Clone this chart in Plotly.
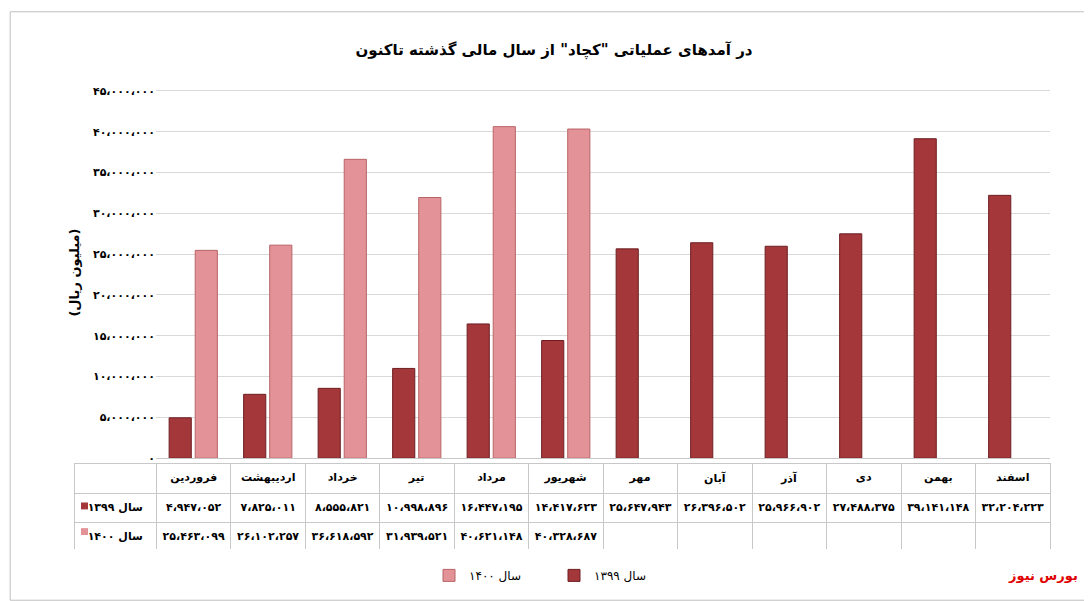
import plotly.graph_objects as go

months = ["فروردین","اردیبهشت","خرداد","تیر","مرداد","شهریور","مهر","آبان","آذر","دی","بهمن","اسفند"]
s1399 = [4947052,7825011,8555821,10998896,16447195,14417623,25647943,26396502,25966902,27488375,39141148,32204223]
s1400 = [25463099,26102257,36618592,31939521,40621148,40328687]
yticks = [0,5000000,10000000,15000000,20000000,25000000,30000000,35000000,40000000,45000000]

def fa(n):
    s = f"{n:,}".replace(",", "،")
    return s.translate(str.maketrans("0123456789","۰۱۲۳۴۵۶۷۸۹"))

c1 = "#a3373a"; c2 = "#e39397"
H = 601
def py(p): return 1 - p / H
W = 1092
def px(p): return p / W

fig = go.Figure()
fig.add_bar(x=months, y=s1399, name="سال ۱۳۹۹", marker_color=c1, marker_line=dict(color="#6e1f22", width=1))
fig.add_bar(x=months[:len(s1400)], y=s1400, name="سال ۱۴۰۰", marker_color=c2, marker_line=dict(color="#b86467", width=1))

fig.add_table(
    domain=dict(x=[px(66), px(1042)], y=[py(548), py(460)]),
    columnwidth=[82] + [74] * 12,
    header=dict(values=[""] + ["<b>%s</b>" % m for m in months], fill_color="white", line_color="#c8c8c8",
                font=dict(family="DejaVu Sans", size=11, color="black"), height=26, align="center"),
    cells=dict(values=[["<b>سال ۱۳۹۹</b>", "<b>سال ۱۴۰۰</b>"]] +
               [["<b>%s</b>" % fa(s1399[i]), ("<b>%s</b>" % fa(s1400[i])) if i < len(s1400) else ""] for i in range(12)],
               fill_color="white", line_color="#c8c8c8",
               font=dict(family="DejaVu Sans", size=11, color="black"),
               height=26, align="center"),
)

fig.update_layout(
    width=W, height=H, margin=dict(l=0, r=0, t=0, b=0),
    paper_bgcolor="white", plot_bgcolor="white",
    barmode="group", bargap=0.3, bargroupgap=0.15,
    font=dict(family="DejaVu Sans", size=11, color="black"),
    title=dict(text="<b>در آمدهای عملیاتی \"کچاد\" از سال مالی گذشته تاکنون</b>", x=0.5, y=0.94, xanchor="center",
               font=dict(size=15)),
    xaxis=dict(domain=[px(148), px(1042)], showticklabels=False, showline=True, linecolor="#c8c8c8"),
    yaxis=dict(domain=[py(455), py(78)], range=[0, 45500000], tickvals=yticks,
               ticktext=["<b>%s</b>" % fa(v) for v in yticks], tickfont=dict(size=11),
               showgrid=True, gridcolor="#d9d9d9", zeroline=False,
               title=dict(text="<b>(میلیون ریال)</b>", standoff=10)),
    legend=dict(orientation="h", x=0.5, xanchor="center", y=py(574), yanchor="middle",
                font=dict(size=12), traceorder="reversed", itemwidth=30, entrywidth=80),
    shapes=[dict(type="rect", xref="paper", yref="paper", x0=0.002, x1=0.998, y0=0.003, y1=0.997,
                 line=dict(color="#bfbfbf", width=1)),
            dict(type="rect", xref="paper", yref="paper", x0=px(73), x1=px(80), y0=py(507), y1=py(500),
                 fillcolor=c1, line_width=0),
            dict(type="rect", xref="paper", yref="paper", x0=px(73), x1=px(80), y0=py(533), y1=py(526),
                 fillcolor=c2, line_width=0)],
    annotations=[dict(text="<b>بورس نیوز</b>", xref="paper", yref="paper", x=px(1035), y=py(584),
                      xanchor="center", showarrow=False, font=dict(color="#e00000", size=13))],
)
fig.write_html("out.html")
